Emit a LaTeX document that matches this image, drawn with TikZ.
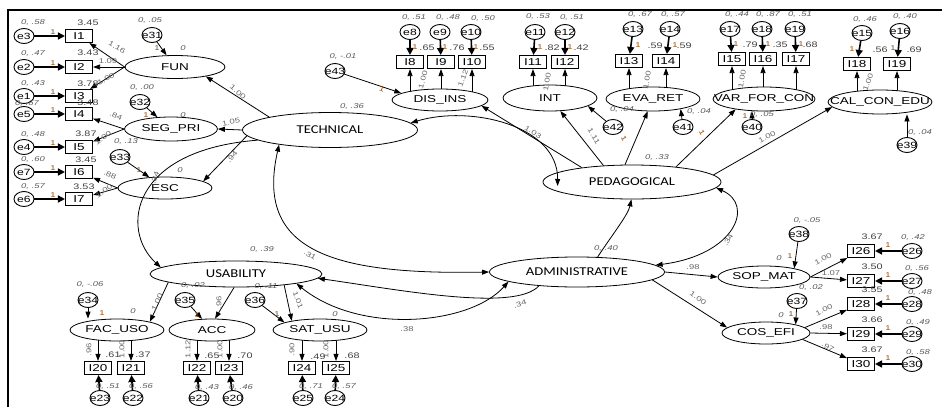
\documentclass[tikz,border=0pt]{standalone}
\usepackage{fontspec}
\setmainfont{Liberation Sans}
\newfontfamily\smallfam[FakeStretch=1.35]{Liberation Sans}
\newfontfamily\bigfam[FakeStretch=1.22]{Carlito}
\usetikzlibrary{shapes.geometric,arrows.meta}
\pgfdeclarelayer{bg}
\pgfsetlayers{bg,main}
\newcounter{lblc}
\newcommand\Lab[5]{\stepcounter{lblc}\node[#1,rotate=#4] (lbl\arabic{lblc}) at (#2,#3) {#5};}
\newcommand\zb[1]{\makebox[0pt]{#1}}
\begin{document}
\begin{tikzpicture}[x=1pt,y=-1pt,
  lat/.style={ellipse, draw, line width=0.8pt, fill=white, inner sep=0pt, font=\bigfam\fontsize{12}{12}\selectfont},
  slat/.style={ellipse, draw, line width=0.8pt, fill=white, inner sep=0pt, font=\smallfam\fontsize{10}{10}\selectfont},
  obs/.style={rectangle, draw, line width=1.1pt, fill=white, minimum width=27pt, minimum height=13pt, inner sep=0pt, font=\smallfam\fontsize{10}{10}\selectfont},
  err/.style={ellipse, draw, line width=0.9pt, fill=white, minimum width=20pt, minimum height=15pt, inner sep=0pt, font=\smallfam\fontsize{9}{9}\selectfont},
  lvar/.style={font=\smallfam\itshape\fontsize{7}{7}\selectfont, text=black!65, inner sep=0pt},
  licp/.style={font=\smallfam\fontsize{8}{8}\selectfont, text=black!75, inner sep=0pt},
  lpc/.style={font=\smallfam\fontsize{7}{7}\selectfont, text=black!60, inner sep=0pt},
  lone/.style={font=\smallfam\fontsize{7}{7}\selectfont, text=orange!60!black, inner sep=0pt},
  arr/.style={-{Triangle[length=7pt,width=5pt]}, line width=0.8pt},
  earr/.style={-{Triangle[length=7pt,width=7pt]}, line width=1.6pt},
  cov/.style={{Triangle[length=7pt,width=5pt]}-{Triangle[length=7pt,width=5pt]}, line width=0.8pt}]
\useasboundingbox (0,0) rectangle (942,407);
\draw[line width=1.3pt] (8,407) -- (8,10) -- (942,10);

% ---------------- main latents
\node[lat, minimum width=175pt, minimum height=35pt] (TECH) at (330,130) {\zb{TECHNICAL}};
\node[lat, minimum width=178pt, minimum height=34pt] (PED) at (632,182) {\zb{PEDAGOGICAL}};
\node[lat, minimum width=175pt, minimum height=30pt] (ADM) at (577,272) {\zb{ADMINISTRATIVE}};
\node[lat, minimum width=172pt, minimum height=26pt] (USA) at (236,274) {\zb{USABILITY}};

% ---------------- left block
\node[slat, minimum width=100pt, minimum height=23pt] (FUN) at (175,67) {\zb{FUN}};
\node[slat, minimum width=93pt, minimum height=24pt] (SEG) at (171,129) {\zb{SEG\_PRI}};
\node[slat, minimum width=94pt, minimum height=22pt] (ESC) at (165,188) {\zb{ESC}};
\node[err] (e31) at (152,35) {\zb{e31}};
\node[err] (e32) at (140,102) {\zb{e32}};
\node[err] (e33) at (120,157) {\zb{e33}};
\node[err] (e3) at (24,36) {\zb{e3}};  \node[obs] (I1) at (79,36) {I1};
\node[err] (e2) at (24,67) {\zb{e2}};  \node[obs] (I2) at (79,67) {I2};
\node[err] (e1) at (24,96) {\zb{e1}};  \node[obs] (I3) at (79,96) {I3};
\node[err] (e5) at (24,114) {\zb{e5}}; \node[obs] (I4) at (79,114) {I4};
\node[err] (e4) at (24,147) {\zb{e4}}; \node[obs] (I5) at (79,147) {I5};
\node[err] (e7) at (24,172) {\zb{e7}}; \node[obs] (I6) at (79,172) {I6};
\node[err] (e6) at (24,199) {\zb{e6}}; \node[obs] (I7) at (79,199) {I7};

% ---------------- top block
\node[slat, minimum width=96pt, minimum height=22pt] (DIS) at (440,100) {\zb{DIS\_INS}};
\node[slat, minimum width=94pt, minimum height=26pt] (INT) at (550,98) {\zb{INT}};
\node[slat, minimum width=94pt, minimum height=24pt] (EVA) at (653,99) {\zb{EVA\_RET}};
\node[slat, minimum width=102pt, minimum height=24pt] (VAR) at (764,99) {\zb{VAR\_FOR\_CON}};
\node[slat, minimum width=104pt, minimum height=24pt] (CAL) at (880,102) {\zb{CAL\_CON\_EDU}};
\node[err] (e43) at (335,71) {\zb{e43}};
\node[err] (e42) at (613,127) {\zb{e42}};
\node[err] (e41) at (683,127) {\zb{e41}};
\node[err] (e40) at (752,127) {\zb{e40}};
\node[err] (e39) at (907,145) {\zb{e39}};
\node[err] (e8) at (410,32) {\zb{e8}};   \node[obs] (I8) at (410,62) {I8};
\node[err] (e9) at (440,32) {\zb{e9}};   \node[obs] (I9) at (441,62) {I9};
\node[err] (e10) at (471,32) {\zb{e10}}; \node[obs] (I10) at (472,62) {I10};
\node[err] (e11) at (535,32) {\zb{e11}}; \node[obs] (I11) at (533,62) {I11};
\node[err] (e12) at (565,32) {\zb{e12}}; \node[obs] (I12) at (565,62) {I12};
\node[err] (e13) at (633,29) {\zb{e13}}; \node[obs] (I13) at (629,61) {I13};
\node[err] (e14) at (670,29) {\zb{e14}}; \node[obs] (I14) at (666,61) {I14};
\node[err] (e17) at (730,29) {\zb{e17}}; \node[obs] (I15) at (732,59) {I15};
\node[err] (e18) at (762,29) {\zb{e18}}; \node[obs] (I16) at (763,59) {I16};
\node[err] (e19) at (795,29) {\zb{e19}}; \node[obs] (I17) at (796,59) {I17};
\node[err] (e15) at (862,33) {\zb{e15}}; \node[obs] (I18) at (857,64) {I18};
\node[err] (e16) at (900,31) {\zb{e16}}; \node[obs] (I19) at (897,64) {I19};

% ---------------- right block
\node[slat, minimum width=92pt, minimum height=22pt] (SOP) at (764,277) {\zb{SOP\_MAT}};
\node[slat, minimum width=88pt, minimum height=22pt] (COS) at (766,333) {\zb{COS\_EFI}};
\node[err] (e38) at (799,234) {\zb{e38}};
\node[err] (e37) at (797,301) {\zb{e37}};
\node[obs] (I26) at (861,251) {I26}; \node[err] (e26) at (912,251) {\zb{e26}};
\node[obs] (I27) at (861,281) {I27}; \node[err] (e27) at (912,281) {\zb{e27}};
\node[obs] (I28) at (861,304) {I28}; \node[err] (e28) at (912,304) {\zb{e28}};
\node[obs] (I29) at (861,334) {I29}; \node[err] (e29) at (912,334) {\zb{e29}};
\node[obs] (I30) at (861,364) {I30}; \node[err] (e30) at (912,364) {\zb{e30}};

% ---------------- bottom block
\node[slat, minimum width=94pt, minimum height=22pt] (FAC) at (117,330) {\zb{FAC\_USO}};
\node[slat, minimum width=86pt, minimum height=22pt] (ACC) at (212,330) {\zb{ACC}};
\node[slat, minimum width=94pt, minimum height=22pt] (SAT) at (320,330) {\zb{SAT\_USU}};
\node[err] (e34) at (88,300) {\zb{e34}};
\node[err] (e35) at (185,300) {\zb{e35}};
\node[err] (e36) at (255,300) {\zb{e36}};
\node[obs] (I20) at (98,368) {I20};  \node[err] (e23) at (100,398) {\zb{e23}};
\node[obs] (I21) at (131,368) {I21}; \node[err] (e22) at (133,398) {\zb{e22}};
\node[obs] (I22) at (197,368) {I22}; \node[err] (e21) at (199,398) {\zb{e21}};
\node[obs] (I23) at (229,368) {I23}; \node[err] (e20) at (233,398) {\zb{e20}};
\node[obs] (I24) at (302,368) {I24}; \node[err] (e25) at (303,398) {\zb{e25}};
\node[obs] (I25) at (336,368) {I25}; \node[err] (e24) at (335,398) {\zb{e24}};

% ---------------- arrows under latents (vertical loadings)
\begin{pgfonlayer}{bg}
\foreach \b/\l in {I8/DIS,I9/DIS,I10/DIS,I11/INT,I12/INT,I13/EVA,I14/EVA,I15/VAR,I16/VAR,I17/VAR,I18/CAL,I19/CAL,I20/FAC,I21/FAC,I22/ACC,I23/ACC,I24/SAT,I25/SAT}
  \draw[arr] (\b |- \l) -- (\b);
\end{pgfonlayer}

% error arrows into indicators
\foreach \e/\b in {e3/I1,e2/I2,e1/I3,e5/I4,e4/I5,e7/I6,e6/I7,e8/I8,e9/I9,e10/I10,e11/I11,e12/I12,e13/I13,e14/I14,e17/I15,e18/I16,e19/I17,e15/I18,e16/I19,e26/I26,e27/I27,e28/I28,e29/I29,e30/I30,e23/I20,e22/I21,e21/I22,e20/I23,e25/I24,e24/I25}
  \draw[earr] (\e) -- (\b);

% left loadings
\draw[arr] (FUN.west) -- (I1);
\draw[arr] (FUN.west) -- (I2);
\draw[arr] (FUN.west) -- (I3);
\draw[arr] (SEG.west) -- (I4);
\draw[arr] (SEG.west) -- (I5);
\draw[arr] (ESC.west) -- (I6);
\draw[arr] (ESC.west) -- (I7);
\draw[arr] (e31) -- (FUN);
\draw[arr] (e32) -- (SEG);
\draw[arr] (e33) -- (ESC);
\draw[arr] (TECH.168) -- (FUN.-17);
\draw[arr] (TECH.west) -- (SEG.east);
\draw[arr] (TECH.184) -- (ESC.10);

% top structure
\draw[arr] (e43) -- (DIS.170);
\draw[arr] (e42) -- (INT.-12);
\draw[arr] (e41) -- (EVA.-20);
\draw[arr] (e40) -- (e40 |- VAR.south);
\draw[arr] (e39) -- (e39 |- CAL.south);
\draw[arr] (PED.164) -- (DIS.-8);
\draw[arr] (PED.150) -- (INT);
\draw[arr] (PED.112) -- (EVA);
\draw[arr] (PED.19) -- (VAR.200);
\draw[arr] (PED.5) -- (CAL.186);

% right structure
\draw[arr] (ADM.east) -- (SOP.west);
\draw[arr] (ADM.-6) -- (COS.172);
\draw[arr] (e38) -- (SOP.16);
\draw[arr] (e37) -- (COS.16);
\draw[arr] (SOP.east) -- (I26);
\draw[arr] (SOP.east) -- (I27);
\draw[arr] (COS.8) -- (I28);
\draw[arr] (COS.east) -- (I29);
\draw[arr] (COS.-10) -- (I30);

% bottom structure
\draw[arr] (USA.187) -- (FAC.14);
\draw[arr] (USA.262) -- (ACC.75);
\draw[arr] (USA.-13) -- (SAT.162);
\draw[arr] (e34) -- (e34 |- FAC.north);
\draw[arr] (e35) -- (ACC);
\draw[arr] (e36) -- (SAT.168);

% curved paths between the main factors
\draw[arr] (TECH.188) .. controls (130,150) and (120,230) .. (USA.175);
\draw[cov] (TECH.196) .. controls (255,250) and (330,275) .. (ADM.west);
\draw[cov] (TECH.5) .. controls (470,105) and (558,125) .. ([xshift=15pt,yshift=-4pt]PED.west);
\draw[arr] (ADM.36) .. controls (612,235) and (628,215) .. (PED.268);
\draw[cov] (PED.-4) .. controls (755,205) and (735,255) .. (ADM.5);
\draw[arr] (ADM.200) .. controls (515,312) and (400,290) .. (USA.-3);
\draw[cov] (USA.-9) .. controls (360,335) and (470,325) .. (ADM.188);

% ---------------- labels: left block
\Lab{lvar}{33}{23}{0}{0, .58}  \Lab{licp}{88}{23}{0}{3.45}  \Lab{lone}{53}{32}{0}{1}
\Lab{lvar}{33}{54}{0}{0, .47}  \Lab{licp}{88}{53}{0}{3.43}  \Lab{lone}{53}{63}{0}{1}
\Lab{lvar}{33}{84}{0}{0, .43}  \Lab{licp}{88}{84}{0}{3.78}  \Lab{lone}{53}{92}{0}{1}
\Lab{lvar}{27}{104}{0}{0, .67} \Lab{licp}{88}{103}{0}{3.48} \Lab{lone}{53}{110}{0}{1}
\Lab{lvar}{33}{135}{0}{0, .48} \Lab{licp}{86}{134}{0}{3.87} \Lab{lone}{53}{143}{0}{1}
\Lab{lvar}{33}{160}{0}{0, .60} \Lab{licp}{86}{160}{0}{3.45} \Lab{lone}{53}{168}{0}{1}
\Lab{lvar}{33}{187}{0}{0, .57} \Lab{licp}{84}{187}{0}{3.53} \Lab{lone}{53}{195}{0}{1}
\Lab{lpc}{117}{47}{-30}{1.16}
\Lab{lpc}{108}{61}{0}{1.09}
\Lab{lpc}{106}{79}{30}{1.00}
\Lab{lpc}{116}{116}{-25}{.84}
\Lab{lpc}{103}{138}{35}{1.00}
\Lab{lpc}{110}{175}{-25}{.88}
\Lab{lpc}{104}{191}{35}{1.00}
\Lab{lvar}{150}{21}{0}{0, .05} \Lab{lone}{157}{48}{0}{1} \Lab{lvar}{183}{48}{0}{0}
\Lab{lvar}{142}{88}{0}{0, .00} \Lab{lone}{146}{115}{0}{1} \Lab{lvar}{183}{115}{0}{0}
\Lab{lvar}{126}{142}{0}{0, .13} \Lab{lone}{139}{170}{0}{1} \Lab{lvar}{180}{170}{0}{0}
\Lab{lvar}{352}{107}{0}{0, .36}
\Lab{lpc}{238}{92}{-40}{1.00}
\Lab{lpc}{231}{122}{12}{1.05}
\Lab{lpc}{232}{157}{50}{.94}
\Lab{lpc}{155}{178}{70}{.34}

% ---------------- labels: top block
\Lab{lvar}{343}{57}{0}{0, -.01} \Lab{lone}{382}{89}{-20}{1}
\Lab{lvar}{414}{18}{0}{0, .51} \Lab{lvar}{448}{18}{0}{0, .48} \Lab{lvar}{483}{19}{0}{0, .50}
\Lab{licp}{427}{48}{0}{.65} \Lab{licp}{457}{48}{0}{.76} \Lab{licp}{487}{48}{0}{.55}
\Lab{lone}{415}{47}{0}{1} \Lab{lone}{445}{47}{0}{1} \Lab{lone}{476}{47}{0}{1}
\Lab{lpc}{423}{80}{75}{1.00} \Lab{lpc}{463}{78}{70}{1.12}
\Lab{lvar}{538}{17}{0}{0, .53} \Lab{lvar}{572}{18}{0}{0, .51}
\Lab{licp}{552}{48}{0}{.82} \Lab{licp}{581}{48}{0}{.42}
\Lab{lone}{540}{47}{0}{1} \Lab{lone}{570}{47}{0}{1}
\Lab{lpc}{547}{82}{80}{1.00}
\Lab{lvar}{622}{110}{0}{0, .04} \Lab{lone}{624}{139}{-60}{1}
\Lab{lvar}{640}{15}{0}{0, .67} \Lab{lvar}{673}{15}{0}{0, .57}
\Lab{licp}{655}{46}{0}{.59} \Lab{licp}{684}{46}{0}{.59}
\Lab{lone}{638}{45}{0}{1} \Lab{lone}{675}{45}{0}{1}
\Lab{lpc}{647}{80}{80}{1.00}
\Lab{lvar}{699}{112}{0}{0, .04} \Lab{lone}{702}{133}{-60}{1}
\Lab{lvar}{737}{15}{0}{0, .44} \Lab{lvar}{768}{15}{0}{0, .87} \Lab{lvar}{800}{15}{0}{0, .51}
\Lab{licp}{750}{45}{0}{.79} \Lab{licp}{780}{45}{0}{.35} \Lab{licp}{810}{45}{0}{.68}
\Lab{lone}{736}{44}{0}{1} \Lab{lone}{768}{44}{0}{1} \Lab{lone}{801}{44}{0}{1}
\Lab{lpc}{742}{79}{80}{1.00}
\Lab{lvar}{762}{115}{0}{0, .05} \Lab{lone}{745}{116}{0}{1}
\Lab{lvar}{865}{20}{0}{0, .46} \Lab{lvar}{905}{17}{0}{0, .40}
\Lab{licp}{880}{50}{0}{.56} \Lab{licp}{914}{50}{0}{.69}
\Lab{lone}{852}{49}{0}{1} \Lab{lone}{893}{48}{0}{1}
\Lab{lpc}{868}{82}{70}{1.00}
\Lab{lvar}{920}{133}{0}{0, .04}
\Lab{lpc}{767}{137}{28}{1.00}
\Lab{lpc}{533}{132}{-32}{1.03}
\Lab{lpc}{594}{136}{-60}{1.11}
\Lab{lvar}{657}{158}{0}{0, .33}

% ---------------- labels: right block
\Lab{lpc}{728}{240}{60}{.34}
\Lab{lvar}{606}{248}{0}{0, .40}
\Lab{lpc}{693}{267}{0}{.98}
\Lab{lpc}{698}{298}{-35}{1.00}
\Lab{lvar}{807}{220}{0}{0, -.05} \Lab{lvar}{779}{258}{0}{0} \Lab{lone}{790}{256}{0}{1}
\Lab{lvar}{811}{287}{0}{0, .02} \Lab{lvar}{781}{315}{0}{0} \Lab{lone}{791}{314}{0}{1}
\Lab{licp}{872}{237}{0}{3.67} \Lab{lvar}{913}{237}{0}{0, .42} \Lab{lone}{888}{245}{0}{1}
\Lab{licp}{872}{267}{0}{3.50} \Lab{lvar}{917}{268}{0}{0, .56} \Lab{lone}{888}{275}{0}{1}
\Lab{licp}{872}{290}{0}{3.55} \Lab{lvar}{920}{292}{0}{0, .48} \Lab{lone}{888}{298}{0}{1}
\Lab{licp}{872}{320}{0}{3.66} \Lab{lvar}{918}{322}{0}{0, .49} \Lab{lone}{888}{328}{0}{1}
\Lab{licp}{872}{350}{0}{3.67} \Lab{lvar}{918}{352}{0}{0, .58} \Lab{lone}{888}{358}{0}{1}
\Lab{lpc}{823}{259}{28}{1.00}
\Lab{lpc}{831}{273}{0}{1.07}
\Lab{lpc}{824}{310}{28}{1.00}
\Lab{lpc}{826}{327}{0}{.98}
\Lab{lpc}{828}{347}{-30}{.97}

% ---------------- labels: bottom block
\Lab{lvar}{262}{249}{0}{0, .39}
\Lab{lpc}{310}{255}{-30}{.31}
\Lab{lpc}{407}{329}{0}{.38}
\Lab{lpc}{520}{304}{15}{.34}
\Lab{lvar}{90}{284}{0}{0, -.06} \Lab{lone}{102}{313}{0}{1} \Lab{lvar}{133}{311}{0}{0}
\Lab{lvar}{193}{285}{0}{0, .02} \Lab{lone}{197}{315}{0}{1}
\Lab{lvar}{266}{286}{0}{0, .11} \Lab{lone}{277}{314}{0}{1} \Lab{lvar}{335}{314}{0}{0}
\Lab{lpc}{157}{302}{65}{1.00}
\Lab{lpc}{219}{303}{90}{.96}
\Lab{lpc}{298}{300}{-70}{1.01}
\Lab{licp}{113}{355}{0}{.61} \Lab{licp}{143}{355}{0}{.37}
\Lab{licp}{212}{356}{0}{.65} \Lab{licp}{245}{356}{0}{.70}
\Lab{licp}{318}{357}{0}{.49} \Lab{licp}{352}{356}{0}{.68}
\Lab{lpc}{89}{350}{90}{.96} \Lab{lpc}{122}{349}{90}{1.00}
\Lab{lpc}{188}{349}{90}{1.12} \Lab{lpc}{220}{349}{90}{1.00}
\Lab{lpc}{292}{350}{90}{.90} \Lab{lpc}{326}{349}{90}{1.00}
\Lab{lvar}{108}{386}{0}{0, .51} \Lab{lvar}{141}{386}{0}{0, .56}
\Lab{lvar}{207}{387}{0}{0, .43} \Lab{lvar}{241}{387}{0}{0, .46}
\Lab{lvar}{311}{386}{0}{0, .71} \Lab{lvar}{344}{386}{0}{0, .57}
\end{tikzpicture}
\end{document}
